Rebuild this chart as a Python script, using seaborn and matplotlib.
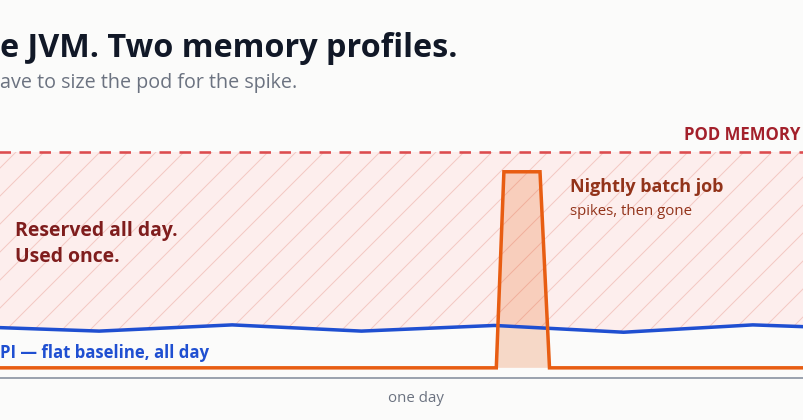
import matplotlib
matplotlib.use("Agg")
import matplotlib.pyplot as plt
import seaborn as sns
import pandas as pd

# ---------------- data ----------------
blue_hours = [0, 3.4, 6.9, 10.3, 13.8, 17.2, 20.6, 24]
blue_gb = [0.91, 0.83, 0.94, 0.83, 0.93, 0.81, 0.94, 0.86]

batch_hours = [0, 13.85, 14.05, 15.0, 15.25, 24]
batch_gb = [0.18, 0.18, 3.65, 3.65, 0.18, 0.18]

POD_LIMIT = 4.0
Y_MAX = 4.4

# texts exactly as visible in the (cropped) reference
title = "e JVM. Two memory profiles."
subtitle = "ave to size the pod for the spike."
pod_label = "POD MEMORY"
batch_title = "Nightly batch job"
batch_sub = "spikes, then gone"
reserved_lines = ["Reserved all day.", "Used once."]
api_label = "PI — flat baseline, all day"
x_label = "one day"

# ---------------- style ----------------
DPI = 84
W, H = 803, 420
def pt(px):
    return px * 72.0 / DPI

sns.set_theme(style="white")
plt.rcParams["font.family"] = ["Open Sans", "DejaVu Sans"]
plt.rcParams["hatch.linewidth"] = pt(1.0)

BG = "#fbfbfa"
BLUE = "#1f4fd1"
ORANGE = "#e85d12"
RED_DASH = "#dc4c4f"

fig = plt.figure(figsize=(W / DPI, H / DPI), dpi=DPI, facecolor=BG)
ax = fig.add_axes([-30 / W, 42 / H, 912 / W, (Y_MAX * 56.5) / H])
ax.set_facecolor(BG)

blue_df = pd.DataFrame({"hour": blue_hours, "gb": blue_gb})
batch_df = pd.DataFrame({"hour": batch_hours, "gb": batch_gb})

# reserved-but-unused hatched area
ax.fill_between(blue_df["hour"], blue_df["gb"], POD_LIMIT,
                facecolor="#fdeeed", edgecolor="#f4c8c3", hatch="/",
                linewidth=0, zorder=1)
# spike fill
ax.fill_between(batch_df["hour"], batch_df["gb"].min(), batch_df["gb"],
                color=ORANGE, alpha=0.22, linewidth=0, zorder=2)

ax.axhline(POD_LIMIT, color=RED_DASH, lw=pt(2.6), dashes=(11.5 / 2.6, 8.5 / 2.6), zorder=3)

sns.lineplot(data=blue_df, x="hour", y="gb", ax=ax, color=BLUE, lw=pt(3.5),
             zorder=4, estimator=None, sort=False)
sns.lineplot(data=batch_df, x="hour", y="gb", ax=ax, color=ORANGE, lw=pt(3.5),
             zorder=5, estimator=None, sort=False)
ax.lines[-1].set_solid_joinstyle("miter")

ax.set_xlim(0, 24)
ax.set_ylim(0, Y_MAX)
ax.set_xticks([])
ax.set_yticks([])
ax.set_xlabel("")
ax.set_ylabel("")
for s in ["top", "left", "right"]:
    ax.spines[s].set_visible(False)
ax.spines["bottom"].set_color("#9ca3af")
ax.spines["bottom"].set_linewidth(pt(2))

def ftext(x, y, s, **kw):
    fig.text(x / W, 1 - y / H, s, va="baseline", **kw)

ftext(0, 57, title, ha="left", fontsize=pt(32.4), fontweight="bold", color="#111827")
ftext(0, 88, subtitle, ha="left", fontsize=pt(19.8), color="#6b7280")
ftext(800, 140, pod_label, ha="right", fontsize=pt(16.8), fontweight="bold", color="#a3202b")
ftext(570, 192, batch_title, ha="left", fontsize=pt(18), fontweight="bold", color="#92331a")
ftext(570, 215, batch_sub, ha="left", fontsize=pt(15), color="#92331a")
ftext(15, 236, reserved_lines[0], ha="left", fontsize=pt(19.4), fontweight="bold", color="#7f1d1d")
ftext(15, 262, reserved_lines[1], ha="left", fontsize=pt(19.4), fontweight="bold", color="#7f1d1d")
ftext(0, 358, api_label, ha="left", fontsize=pt(16.8), fontweight="bold", color=BLUE)
ftext(416, 402, x_label, ha="center", fontsize=pt(15), color="#6b7280")

fig.savefig("out.png", dpi=DPI, facecolor=BG)
